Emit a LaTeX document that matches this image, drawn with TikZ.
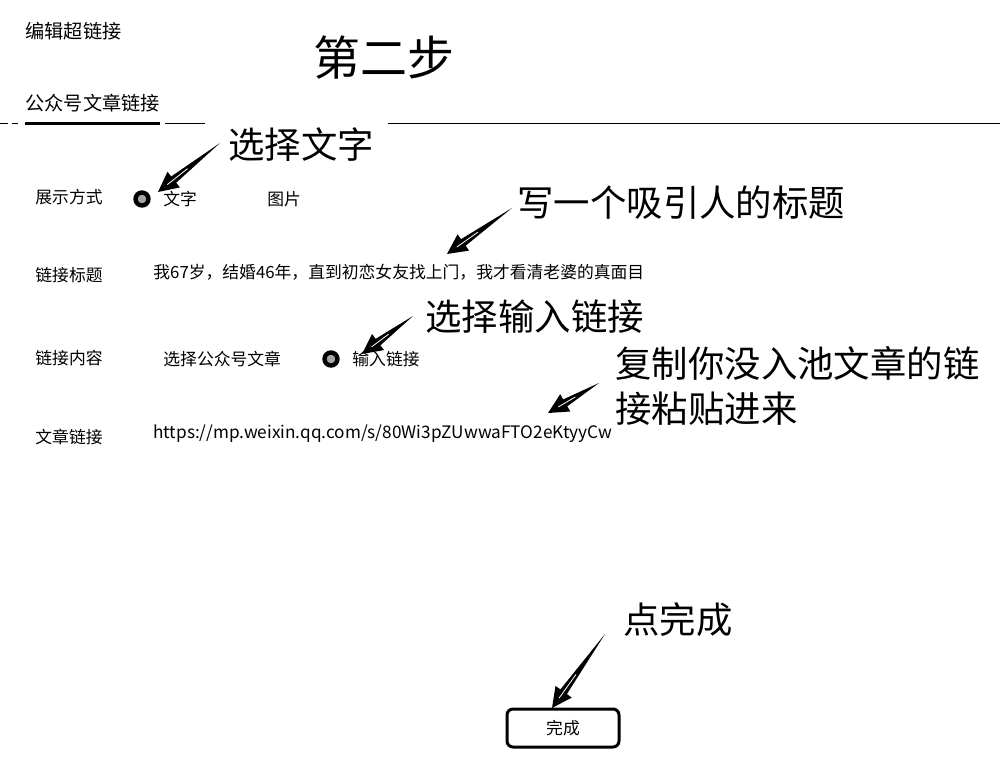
\documentclass[tikz,border=0pt]{standalone}
\usepackage{fontspec}
\setmainfont{Noto Sans CJK SC}
\usetikzlibrary{calc,positioning}

\newcommand{\pointer}[2]{%
  \coordinate (pb) at ($(#2)!10pt!(#1)$);
  \fill (#1) -- ($(pb)!2pt!90:(#2)$) -- ($(pb)!5pt!90:(#2)$) -- (#2)
        -- ($(pb)!5pt!-90:(#2)$) -- ($(pb)!2pt!-90:(#2)$) -- cycle;
  \draw[white,line width=0.4pt] ($(pb)!0.3!(#1)$) -- ($(pb)!-4pt!(#1)$);
}

\begin{document}
\begin{tikzpicture}
    [x=0.5pt,y=-0.5pt,
     field/.style={anchor=west,inner sep=0pt,font=\fontsize{8.4}{10}\selectfont},
     tab/.style={anchor=west,inner sep=0pt,font=\fontsize{9.6}{12}\selectfont},
     note/.style={anchor=west,inner sep=0pt,align=left,font=\fontsize{18.2}{22.5}\selectfont},
     heading/.style={anchor=west,inner sep=0pt,font=\fontsize{23.5}{28}\selectfont},
     radio/.style={circle,draw,line width=2.2pt,fill=gray!70,minimum size=6.5pt,inner sep=0pt},
     button/.style={draw,line width=1.5pt,rounded corners=3pt,minimum width=56pt,minimum height=19pt,
                    font=\fontsize{8.4}{10}\selectfont}]

    \useasboundingbox[fill=white] (0,0) rectangle (1000,766);

    \node[tab] (edit) at (25,31) {编辑超链接};
    \node[heading] (step2) at (313,58) {第二步};
    \node[tab] (tabname) at (25,103) {公众号文章链接};

    \draw[line width=1.5pt] (25,123) -- (160,123);
    \draw (165,123) -- (205,123);
    \draw (388,123) -- (1000,123);
    \draw (0,123) -- (8,123) (12,123) -- (18,123);

    \node[note] (pickText) at (228,145) {选择文字};
    \node[field] (modeLbl) at (35,197) {展示方式};
    \node[radio] (radioText) at (142,199) {};
    \node[field] (optText) at (163,199) {文字};
    \node[field] (optPic) at (267,199) {图片};

    \node[note] (writeTitle) at (517,203) {写一个吸引人的标题};
    \node[field] (titleLbl) at (35,275) {链接标题};
    \node[field] (title) at (153,272) {我67岁，结婚46年，直到初恋女友找上门，我才看清老婆的真面目};

    \node[note] (pickInput) at (425,317) {选择输入链接};
    \node[field] (contentLbl) at (35,358) {链接内容};
    \node[field] (optArticle) at (163,359) {选择公众号文章};
    \node[radio] (radioInput) at (331,359) {};
    \node[field] (optInput) at (352,359) {输入链接};

    \node[note] (pasteLink) at (615,386) {复制你没入池文章的链\\接粘贴进来};
    \node[field] (urlLbl) at (35,437) {文章链接};
    \node[field,font=\fontsize{8.6}{10}\selectfont] (url) at (153,434) {https://mp.weixin.qq.com/s/80Wi3pZUwwaFTO2eKtyyCw};

    \node[note] (clickDone) at (623,620) {点完成};
    \node[button] (done) at (563,728) {完成};

    \coordinate (t1) at (220,143);  \coordinate (h1) at (158,192);
    \coordinate (t2) at (512,208);  \coordinate (h2) at (447,254);
    \coordinate (t3) at (413,316);  \coordinate (h3) at (362,354);
    \coordinate (t4) at (599,383);  \coordinate (h4) at (548,413);
    \coordinate (t5) at (605,634);  \coordinate (h5) at (552,708);

    \pointer{t1}{h1}
    \pointer{t2}{h2}
    \pointer{t3}{h3}
    \pointer{t4}{h4}
    \pointer{t5}{h5}

\end{tikzpicture}
\end{document}
